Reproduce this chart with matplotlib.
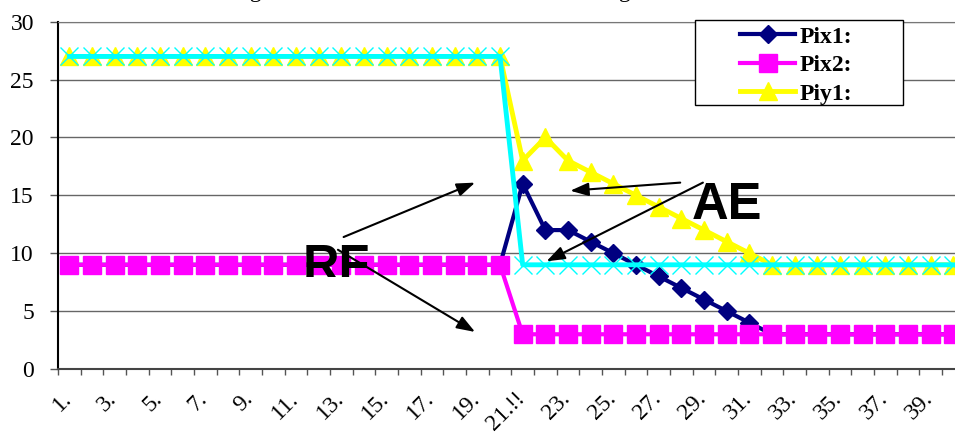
import numpy as np
import matplotlib.pyplot as plt
from matplotlib.patches import Rectangle
from matplotlib.transforms import Bbox, TransformedBbox, ScaledTranslation

# step labels along the x axis
categories = ["1.", "2.", "3.", "4.", "5.", "6.", "7.", "8.", "9.", "10.",
              "11.", "12.", "13.", "14.", "15.", "16.", "17.", "18.", "19.", "20.",
              "21.!!", "22.", "23.", "24.", "25.", "26.", "27.", "28.", "29.", "30.",
              "31.", "32.", "33.", "34.", "35.", "36.", "37.", "38.", "39.", "40."]

pix1 = [9, 9, 9, 9, 9, 9, 9, 9, 9, 9, 9, 9, 9, 9, 9, 9, 9, 9, 9, 9,
        16, 12, 12, 11, 10, 9, 8, 7, 6, 5, 4, 3, 3, 3, 3, 3, 3, 3, 3, 3]
pix2 = [9, 9, 9, 9, 9, 9, 9, 9, 9, 9, 9, 9, 9, 9, 9, 9, 9, 9, 9, 9,
        3, 3, 3, 3, 3, 3, 3, 3, 3, 3, 3, 3, 3, 3, 3, 3, 3, 3, 3, 3]
piy1 = [27, 27, 27, 27, 27, 27, 27, 27, 27, 27, 27, 27, 27, 27, 27, 27, 27, 27, 27, 27,
        18, 20, 18, 17, 16, 15, 14, 13, 12, 11, 10, 9, 9, 9, 9, 9, 9, 9, 9, 9]
piy2 = [27, 27, 27, 27, 27, 27, 27, 27, 27, 27, 27, 27, 27, 27, 27, 27, 27, 27, 27, 27,
        9, 9, 9, 9, 9, 9, 9, 9, 9, 9, 9, 9, 9, 9, 9, 9, 9, 9, 9, 9]

plt.rcParams['font.family'] = ['Liberation Serif', 'DejaVu Serif']
sans = 'Liberation Sans'

fig = plt.figure(figsize=(9.55, 4.34), dpi=100)
ax = fig.add_axes([58 / 955, 65 / 434, 906.7 / 955, 347.3 / 434])

x = np.arange(len(categories))
l1, = ax.plot(x, pix1, color='#000080', lw=3, marker='D', ms=9, zorder=3, label='Pix1:')
l2, = ax.plot(x, pix2, color='#FF00FF', lw=3, marker='s', ms=13, zorder=4, label='Pix2:')
l3, = ax.plot(x, piy1, color='#FFFF00', lw=3.5, marker='^', ms=13, zorder=3.5, label='Piy1:')
ax.plot(x, piy2, color='#00FFFF', lw=3.5, marker='x', ms=13, mew=1, zorder=5)

ax.set_xlim(-0.5, len(categories) - 0.5)
ax.set_ylim(0, 30)
ax.set_yticks(range(0, 31, 5))
ax.yaxis.grid(True, color='#666666', lw=1)
ax.set_axisbelow(True)

ax.spines['right'].set_visible(False)
ax.spines['top'].set_color('#777777')
ax.spines['left'].set_color('black')
ax.spines['left'].set_linewidth(1.5)
ax.spines['bottom'].set_color('#444444')
ax.spines['bottom'].set_linewidth(1.5)

ax.tick_params(axis='y', direction='out', length=5.8, width=1, color='#555555',
               pad=11.5, labelsize=17)

# labels on every other step, tick marks between the steps
ax.set_xticks(x[::2])
ax.set_xticklabels(categories[::2], rotation=45, ha='right', va='center',
                   rotation_mode='anchor', fontsize=17)
ax.set_xticks(np.arange(-0.5, len(categories), 1), minor=True)
ax.tick_params(axis='x', which='major', length=0, pad=19)
ax.tick_params(axis='x', which='minor', direction='out', length=4.3, width=1, color='#555555')
shift = ScaledTranslation(-1 / 100, 0, fig.dpi_scale_trans)
for lab in ax.get_xticklabels():
    lab.set_transform(lab.get_transform() + shift)

fig.text(475 / 955, 1 + 2.5 / 434, 'Figure 3. Simulation of individual moving behavior',
         ha='center', va='baseline', fontsize=17)

# callouts
arrow = dict(arrowstyle='-|>,head_length=0.55,head_width=0.2', color='black', lw=1.5,
             mutation_scale=20, shrinkA=0, shrinkB=0)
ax.annotate('', xy=(17.9, 16.1), xytext=(12.1, 11.4), arrowprops=arrow, zorder=6)
ax.annotate('', xy=(17.9, 3.2), xytext=(11.85, 10.3), arrowprops=arrow, zorder=6)
ax.annotate('', xy=(22.1, 15.4), xytext=(26.95, 16.1), arrowprops=arrow, zorder=6)
ax.annotate('', xy=(21.05, 9.3), xytext=(27.95, 16.1), arrowprops=arrow, zorder=6)

rf = ax.text(10.3, 7.56, 'RF', fontsize=36.5, fontweight='bold', family=sans,
             ha='left', va='baseline', zorder=6)
rf.set_clip_on(True)
rf.set_clip_box(TransformedBbox(Bbox([[9, 7.94], [15, 14]]), ax.transData))
ax.text(27.45, 12.93, 'AE', fontsize=36.5, fontweight='bold', family=sans,
        ha='left', va='baseline', zorder=6)

# legend box
fig.add_artist(Rectangle((695 / 955, 1 - 105 / 434), 208 / 955, 85 / 434,
                         transform=fig.transFigure, facecolor='white',
                         edgecolor='black', lw=1, zorder=4))
fig.legend(handles=[l1, l2, l3], loc='upper left', bbox_to_anchor=(740 / 955, 1 - 26 / 434),
           frameon=False, borderpad=0, borderaxespad=0, handlelength=2.33,
           handletextpad=0.2, labelspacing=0.3, numpoints=1,
           prop=dict(weight='bold', size=17))

fig.savefig('out.png', dpi=100)
